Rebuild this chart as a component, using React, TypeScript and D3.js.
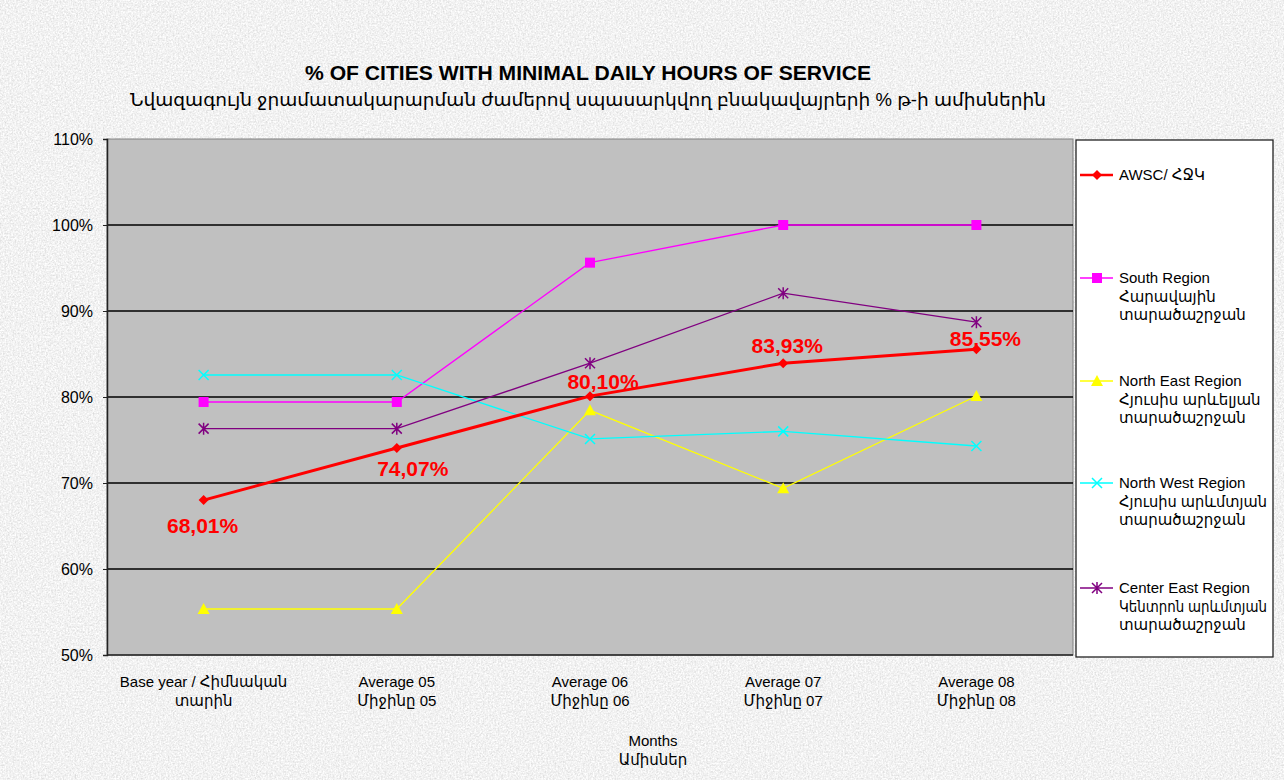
import * as d3 from 'd3';
import { useEffect, useRef } from 'react';

const categories = [
  ['Base year / Հիմնական', 'տարին'],
  ['Average 05', 'Միջինը 05'],
  ['Average 06', 'Միջինը 06'],
  ['Average 07', 'Միջինը 07'],
  ['Average 08', 'Միջինը 08'],
];
const awsc = [68.01, 74.07, 80.1, 83.93, 85.55];
const south = [79.42, 79.42, 95.62, 100, 100];
const northEast = [55.35, 55.35, 78.45, 69.38, 80.12];
const northWest = [82.56, 82.56, 75.12, 76.0, 74.3];
const centerEast = [76.32, 76.32, 83.93, 92.07, 88.7];
const awscLabels = ['68,01%', '74,07%', '80,10%', '83,93%', '85,55%'];
const yTicks = [50, 60, 70, 80, 90, 100, 110];

const series = [
  { key: 'awsc', values: awsc, color: '#FF0000', width: 3, marker: 'diamond', legend: ['AWSC/ ՀՋԿ'] },
  { key: 'south', values: south, color: '#FF00FF', width: 1.3, marker: 'square', legend: ['South Region', 'Հարավային', 'տարածաշրջան'] },
  { key: 'ne', values: northEast, color: '#FFFF00', width: 1.3, marker: 'triangle', legend: ['North East Region', 'Հյուսիս արևելյան', 'տարածաշրջան'] },
  { key: 'nw', values: northWest, color: '#00FFFF', width: 1.3, marker: 'x', legend: ['North West  Region', 'Հյուսիս արևմտյան', 'տարածաշրջան'] },
  { key: 'ce', values: centerEast, color: '#800080', width: 1.3, marker: 'star', legend: ['Center East Region', 'Կենտրոն արևմտյան', 'տարածաշրջան'] },
];

const FONT = "'Liberation Sans', Arial, 'DejaVu Sans', sans-serif";

// draw one marker glyph centred on 0,0
const drawMarker = (g, type, color) => {
  if (type === 'diamond') {
    g.append('path').attr('d', 'M0,-5L5,0L0,5L-5,0Z').attr('fill', color);
  } else if (type === 'square') {
    g.append('rect').attr('x', -5).attr('y', -5).attr('width', 10).attr('height', 10).attr('fill', color);
  } else if (type === 'triangle') {
    g.append('path').attr('d', 'M0,-6L6,5L-6,5Z').attr('fill', color);
  } else if (type === 'x') {
    g.append('path').attr('d', 'M-5,-5L5,5M5,-5L-5,5').attr('stroke', color).attr('stroke-width', 1.5);
  } else {
    g.append('path').attr('d', 'M-5,-5L5,5M5,-5L-5,5M0,-6L0,6').attr('stroke', color).attr('stroke-width', 1.5);
  }
};

export default function App() {
  const ref = useRef<SVGSVGElement | null>(null);

  useEffect(() => {
    document.body.style.margin = '0';
    const width = 1284;
    const height = 780;
    const left = 107;
    const right = 1073;
    const top = 139;
    const bottom = 655;

    const x = d3.scalePoint().domain(d3.range(categories.length)).range([left, right]).padding(0.5);
    const y = d3.scaleLinear().domain([50, 110]).range([bottom, top]);

    const svg = d3.select(ref.current);
    svg.selectAll('*').remove();
    svg.attr('width', width).attr('height', height);

    // granite-like background
    const defs = svg.append('defs');
    const f = defs.append('filter').attr('id', 'grain').attr('x', 0).attr('y', 0).attr('width', '100%').attr('height', '100%')
      .attr('filterUnits', 'userSpaceOnUse');
    f.append('feTurbulence').attr('type', 'fractalNoise').attr('baseFrequency', 0.6).attr('numOctaves', 3).attr('seed', 4);
    f.append('feColorMatrix')
      .attr('type', 'matrix')
      .attr('values', '0.45 0 0 0 0.66  0.45 0 0 0 0.66  0.45 0 0 0 0.66  0 0 0 0 1');
    svg.append('rect').attr('width', width).attr('height', height).attr('fill', '#e8e8e8').attr('filter', 'url(#grain)');

    // titles
    svg.append('text')
      .attr('x', 588).attr('y', 80).attr('text-anchor', 'middle')
      .attr('font-family', FONT).attr('font-size', 20.5).attr('font-weight', 'bold')
      .attr('textLength', 566).attr('lengthAdjust', 'spacingAndGlyphs')
      .text('% OF CITIES WITH MINIMAL DAILY HOURS OF SERVICE');
    svg.append('text')
      .attr('x', 588).attr('y', 106).attr('text-anchor', 'middle')
      .attr('font-family', FONT).attr('font-size', 18)
      .attr('textLength', 916).attr('lengthAdjust', 'spacingAndGlyphs')
      .text('Նվազագույն ջրամատակարարման ժամերով սպասարկվող բնակավայրերի % թ-ի  ամիսներին');

    // plot area
    svg.append('rect')
      .attr('x', left).attr('y', top).attr('width', right - left).attr('height', bottom - top)
      .attr('fill', '#C0C0C0').attr('stroke', '#808080').attr('stroke-width', 1);

    svg.append('g')
      .selectAll('line')
      .data(yTicks.filter((t) => t > 50 && t < 110))
      .join('line')
      .attr('x1', left).attr('x2', right)
      .attr('y1', (d) => y(d)).attr('y2', (d) => y(d))
      .attr('stroke', '#000').attr('stroke-width', 1.3);

    const yAxis = svg.append('g')
      .attr('transform', `translate(${left},0)`)
      .call(d3.axisLeft(y).tickValues(yTicks).tickSize(4).tickPadding(10).tickFormat((d) => `${d}%`));
    yAxis.select('.domain').attr('stroke', '#222').attr('stroke-width', 1.5);
    yAxis.selectAll('.tick line').attr('stroke', '#222');
    yAxis.selectAll('text').attr('font-family', FONT).attr('font-size', 16).attr('fill', '#000');

    svg.append('line')
      .attr('x1', left).attr('x2', right).attr('y1', bottom).attr('y2', bottom)
      .attr('stroke', '#222').attr('stroke-width', 1.5);

    // x tick labels
    const xl = svg.append('g').attr('font-family', FONT).attr('font-size', 15).attr('text-anchor', 'middle');
    categories.forEach((c, i) => {
      c.forEach((line, j) => {
        xl.append('text').attr('x', x(i)).attr('y', 687 + j * 19).text(line);
      });
    });
    xl.append('text').attr('x', 653).attr('y', 746).text('Months');
    xl.append('text').attr('x', 653).attr('y', 765).text('Ամիսներ');

    // series, drawn with AWSC last
    const lineGen = d3.line<number>().x((_, i) => x(i)).y((d) => y(d));
    [...series.slice(1), series[0]].forEach((s) => {
      const g = svg.append('g');
      g.append('path')
        .attr('d', lineGen(s.values))
        .attr('fill', 'none')
        .attr('stroke', s.color)
        .attr('stroke-width', s.width);
      s.values.forEach((v, i) => {
        const m = g.append('g').attr('transform', `translate(${x(i)},${y(v)})`);
        drawMarker(m, s.marker, s.color);
      });
    });

    // AWSC data labels
    const offsets = [
      [-1, 33],
      [16, 28],
      [13, -7],
      [4, -10],
      [9, -3],
    ];
    svg.append('g')
      .attr('font-family', FONT).attr('font-size', 21).attr('font-weight', 'bold')
      .attr('fill', '#FF0000').attr('text-anchor', 'middle')
      .selectAll('text')
      .data(awsc)
      .join('text')
      .attr('x', (_, i) => x(i) + offsets[i][0])
      .attr('y', (d, i) => y(d) + offsets[i][1])
      .text((_, i) => awscLabels[i]);

    // legend
    const lg = svg.append('g');
    lg.append('rect')
      .attr('x', 1076).attr('y', 140).attr('width', 197).attr('height', 517)
      .attr('fill', '#fff').attr('stroke', '#222').attr('stroke-width', 1.3);
    const legendY = [175, 278, 381, 483, 588];
    series.forEach((s, i) => {
      const yy = legendY[i];
      lg.append('line')
        .attr('x1', 1080).attr('x2', 1113).attr('y1', yy).attr('y2', yy)
        .attr('stroke', s.color).attr('stroke-width', s.width === 3 ? 2.5 : 1.5);
      drawMarker(lg.append('g').attr('transform', `translate(1097,${yy})`), s.marker, s.color);
      s.legend.forEach((t, j) => {
        const txt = lg.append('text')
          .attr('x', 1119).attr('y', yy + 5 + j * 18.5)
          .attr('font-family', FONT).attr('font-size', 15)
          .text(t);
        const w = (txt.node() as SVGTextElement).getComputedTextLength();
        if (w > 148) txt.attr('textLength', 148).attr('lengthAdjust', 'spacingAndGlyphs');
      });
    });
  }, []);

  return <svg ref={ref} style={{ display: 'block' }} />;
}
